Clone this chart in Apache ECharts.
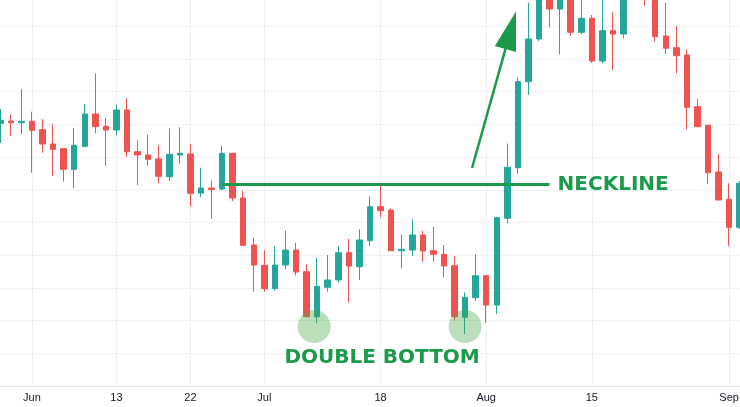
<!DOCTYPE html>
<html>
<head>
<meta charset="utf-8">
<script src="https://cdn.jsdelivr.net/npm/echarts@6/dist/echarts.min.js"></script>
<style>
html,body{margin:0;padding:0;background:#fff;}
#chart{width:740px;height:407px;}
</style>
</head>
<body>
<div id="chart"></div>
<script>
// Trading days (weekdays) shown on the chart
const categories = [
 '2022-05-27','2022-05-30','2022-05-31',
 '2022-06-01','2022-06-02','2022-06-03','2022-06-06','2022-06-07','2022-06-08','2022-06-09','2022-06-10',
 '2022-06-13','2022-06-14','2022-06-15','2022-06-16','2022-06-17','2022-06-20','2022-06-21','2022-06-22',
 '2022-06-23','2022-06-24','2022-06-27','2022-06-28','2022-06-29','2022-06-30',
 '2022-07-01','2022-07-04','2022-07-05','2022-07-06','2022-07-07','2022-07-08','2022-07-11','2022-07-12',
 '2022-07-13','2022-07-14','2022-07-15','2022-07-18','2022-07-19','2022-07-20','2022-07-21','2022-07-22',
 '2022-07-25','2022-07-26','2022-07-27','2022-07-28','2022-07-29',
 '2022-08-01','2022-08-02','2022-08-03','2022-08-04','2022-08-05','2022-08-08','2022-08-09','2022-08-10',
 '2022-08-11','2022-08-12','2022-08-15','2022-08-16','2022-08-17','2022-08-18','2022-08-19','2022-08-22',
 '2022-08-23','2022-08-24','2022-08-25','2022-08-26','2022-08-29','2022-08-30','2022-08-31',
 '2022-09-01','2022-09-02'
];
const opens = [
 58.97,59.20,59.03,59.17,58.33,56.90,56.43,54.37,56.67,59.90,
 58.67,58.30,60.30,56.13,55.80,55.40,53.63,55.80,55.90,52.00,
 52.50,52.40,55.97,51.50,46.80,44.77,42.43,44.80,46.30,44.13,
 39.63,42.57,43.30,46.03,44.63,47.23,50.63,50.30,46.23,46.30,
 47.80,46.23,45.87,44.73,39.57,41.53,43.73,40.80,49.47,54.53,
 63.13,67.40,72.80,70.40,72.30,68.07,69.47,65.20,68.23,67.90,
 72.60,72.80,72.10,67.70,66.53,65.80,60.63,58.77,54.10,51.37,
 48.57
];
const closes = [
 59.27,59.03,59.17,58.27,56.90,56.37,54.37,56.77,59.90,58.63,
 58.30,60.30,56.13,55.80,55.37,53.67,55.87,55.97,51.97,52.50,
 52.35,55.97,51.50,46.77,44.80,42.43,44.80,46.30,44.10,39.63,
 42.67,43.30,46.03,44.70,47.30,50.63,50.23,46.23,46.37,47.80,
 46.20,45.87,44.70,39.63,41.57,43.73,40.80,49.53,54.57,63.13,
 67.40,72.50,70.40,72.70,68.07,69.47,65.20,68.23,67.90,72.50,
 73.40,71.80,67.63,66.47,65.73,60.57,58.63,54.03,51.30,48.57,
 52.97
];
const lows = [
 57.00,57.70,57.90,54.03,56.03,53.73,53.13,52.47,56.57,57.97,
 54.70,57.77,55.63,52.80,54.73,52.97,53.23,54.90,50.63,51.60,
 49.40,52.30,51.20,46.70,42.13,42.13,42.23,44.40,43.77,39.60,
 38.97,42.13,43.03,41.03,43.30,46.70,49.57,46.20,44.47,45.70,
 45.13,45.13,43.57,39.23,37.90,41.20,39.00,39.90,48.97,53.90,
 61.80,67.20,68.57,65.87,67.70,67.87,65.03,64.97,64.30,67.47,
 71.60,70.70,67.13,65.90,63.97,58.37,58.60,52.90,51.30,46.70,
 48.40
];
const highs = [
 60.40,59.87,62.40,60.13,59.40,58.87,56.50,58.50,60.90,63.97,
 59.53,60.83,61.47,57.23,57.83,56.80,58.47,58.57,56.87,54.53,
 53.23,56.73,56.00,52.23,47.53,46.27,46.67,48.23,47.03,44.87,
 45.53,45.80,46.67,47.40,48.37,51.63,52.70,50.47,47.80,49.37,
 48.20,48.63,46.80,45.67,42.07,45.87,43.80,49.63,56.97,63.57,
 71.03,73.30,73.50,73.30,72.80,72.10,69.80,71.90,70.10,73.30,
 74.00,73.80,72.80,71.03,68.70,66.37,61.40,58.77,55.90,52.97,
 53.20
];
const tickDates  = ['2022-06-01','2022-06-13','2022-06-22','2022-07-01','2022-07-18','2022-08-01','2022-08-15','2022-09-01'];
const tickLabels = ['Jun','13','22','Jul','18','Aug','15','Sep'];

// Annotations (in data terms)
const necklinePrice = 52.87;
const necklineFrom = '2022-06-27';
const necklineTo = '2022-08-09';
const bottomDates = ['2022-07-08','2022-07-28'];
const bottomPrice = 38.65;
const bottomTextDate = '2022-07-18';
const bottomTextPrice = 35.5;
const arrowTail = [44.66, 54.5];   // [category index, price]
const arrowTip  = [48.82, 70.15];

const UP = '#26a69a', DOWN = '#ef5350', GREEN = '#1b9a4a';
const LABEL_FONT = 'DejaVu Sans';

const chart = echarts.init(document.getElementById('chart'));
const candleData = categories.map((d, i) => [opens[i], closes[i], lows[i], highs[i]]);
const isTick = (idx, val) => tickDates.indexOf(val) >= 0;

chart.setOption({
  animation: false,
  backgroundColor: '#ffffff',
  grid: { left: -5, right: -5, top: -39.1, bottom: 21, containLabel: false, outerBoundsMode: 'none' },
  xAxis: {
    type: 'category',
    data: categories,
    boundaryGap: true,
    axisTick: { show: false },
    axisLine: { show: true, lineStyle: { color: '#e0e3eb', width: 1 } },
    axisLabel: {
      interval: isTick,
      formatter: v => tickLabels[tickDates.indexOf(v)] || '',
      color: '#131722', fontSize: 11, fontFamily: 'Liberation Sans', margin: 6
    },
    splitLine: { show: true, interval: isTick, alignWithLabel: true, lineStyle: { color: '#eef0f3', width: 1 } }
  },
  yAxis: {
    type: 'value', min: 32.7, max: 75.21, interval: 3.27,
    axisLabel: { show: false }, axisLine: { show: false }, axisTick: { show: false },
    splitLine: { show: true, lineStyle: { color: '#eef0f3', width: 1 } }
  },
  series: [{
    type: 'candlestick',
    data: candleData,
    barWidth: 6,
    itemStyle: { color: UP, color0: DOWN, borderColor: UP, borderColor0: DOWN, borderWidth: 1 },
    markLine: {
      silent: true, symbol: ['none', 'none'],
      lineStyle: { color: GREEN, width: 3, type: 'solid' },
      label: { show: true, position: 'end', formatter: 'NECKLINE', distance: 8,
               color: GREEN, fontSize: 20, fontWeight: 'bold', fontFamily: LABEL_FONT },
      data: [[ { coord: [necklineFrom, necklinePrice] }, { coord: [necklineTo, necklinePrice] } ]]
    },
    markPoint: {
      silent: true,
      data: [
        { coord: [bottomDates[0], bottomPrice], symbol: 'circle', symbolSize: 33, symbolOffset: [-3, 0],
          itemStyle: { color: 'rgba(60,160,60,0.35)' }, label: { show: false } },
        { coord: [bottomDates[1], bottomPrice], symbol: 'circle', symbolSize: 33,
          itemStyle: { color: 'rgba(60,160,60,0.35)' }, label: { show: false } },
        { coord: [bottomTextDate, bottomTextPrice], symbol: 'rect', symbolSize: 1,
          itemStyle: { color: 'rgba(0,0,0,0)' },
          label: { show: true, position: 'inside', formatter: 'DOUBLE BOTTOM', offset: [1.5, 0],
                   color: GREEN, fontSize: 20, fontWeight: 'bold', fontFamily: LABEL_FONT } }
      ]
    }
  }]
});

// Arrow annotation anchored on data coordinates
function px(idx, price) {
  const i0 = Math.floor(idx), f = idx - i0;
  const a = chart.convertToPixel({ gridIndex: 0 }, [i0, price]);
  const b = chart.convertToPixel({ gridIndex: 0 }, [i0 + 1, price]);
  return [a[0] + (b[0] - a[0]) * f, a[1]];
}
const t = px(arrowTail[0], arrowTail[1]);
const h = px(arrowTip[0], arrowTip[1]);
const dx = h[0] - t[0], dy = h[1] - t[1], len = Math.hypot(dx, dy);
const ux = dx / len, uy = dy / len;
const headLen = 39, headHalf = 11;
const bc = [h[0] - ux * headLen, h[1] - uy * headLen];
const px1 = [bc[0] - uy * headHalf, bc[1] + ux * headHalf];
const px2 = [bc[0] + uy * headHalf, bc[1] - ux * headHalf];
chart.setOption({
  graphic: [
    { type: 'line', z: 100, shape: { x1: t[0], y1: t[1], x2: bc[0] + ux * 2, y2: bc[1] + uy * 2 },
      style: { stroke: GREEN, lineWidth: 2.5 } },
    { type: 'polygon', z: 100, shape: { points: [h, px1, px2] }, style: { fill: GREEN } }
  ]
});
</script>
</body>
</html>
